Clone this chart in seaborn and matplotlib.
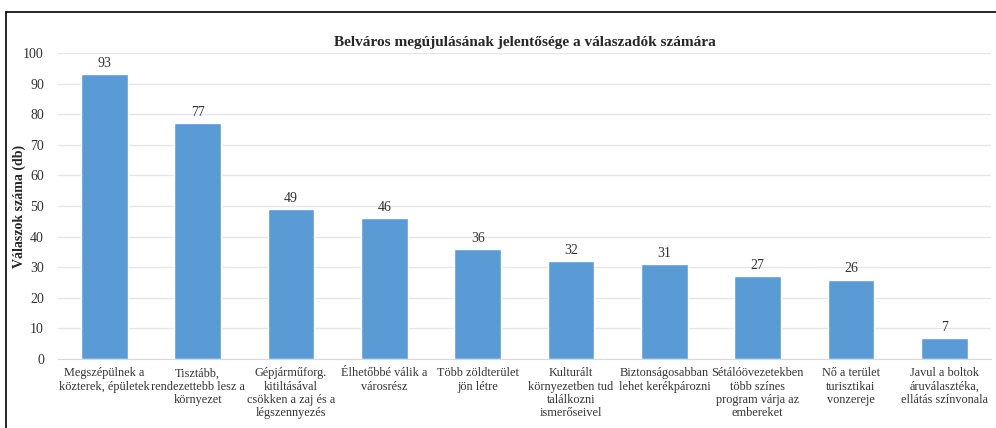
import pandas as pd
import matplotlib.pyplot as plt
import matplotlib.lines as mlines
import seaborn as sns

# Data
categories = [
    "Megszépülnek a\nközterek, épületek",
    "Tisztább,\nrendezettebb lesz a\nkörnyezet",
    "Gépjárműforg.\nkitiltásával\ncsökken a zaj és a\nlégszennyezés",
    "Élhetőbbé válik a\nvárosrész",
    "Több zöldterület\njön létre",
    "Kulturált\nkörnyezetben tud\ntalálkozni\nismerőseivel",
    "Biztonságosabban\nlehet kerékpározni",
    "Sétálóövezetekben\ntöbb színes\nprogram várja az\nembereket",
    "Nő a terület\nturisztikai\nvonzereje",
    "Javul a boltok\náruválasztéka,\nellátás színvonala",
]
counts = [93, 77, 49, 46, 36, 32, 31, 27, 26, 7]
yticks = list(range(0, 101, 10))

df = pd.DataFrame({"valasz": categories, "db": counts})

sns.set_style("white")
plt.rcParams["font.family"] = ["Liberation Serif", "DejaVu Serif"]

fig = plt.figure(figsize=(9.96, 4.28), dpi=100)
ax = fig.add_axes([0.058, 0.161, 0.937, 0.715])

sns.barplot(data=df, x="valasz", y="db", color="#5B9BD5", width=0.5,
            saturation=1, ax=ax)

ax.set_ylim(0, 100)
ax.set_yticks(yticks)
ax.yaxis.grid(True, color="#e6e6e6", linewidth=1)
ax.set_axisbelow(True)
for s in ["top", "right", "left"]:
    ax.spines[s].set_visible(False)
ax.spines["bottom"].set_color("#d9d9d9")
ax.tick_params(axis="both", length=0, colors="#333333")
ax.tick_params(axis="y", labelsize=10, pad=10)
ax.tick_params(axis="x", labelsize=8.8, pad=6)
for lab in ax.get_xticklabels():
    lab.set_linespacing(1.12)
ax.set_xlabel("")
ax.set_ylabel("Válaszok száma (db)", fontsize=10, fontweight="bold")
ax.yaxis.set_label_coords(-0.034, 0.5)
for c in ax.containers:
    ax.bar_label(c, padding=3, fontsize=10, color="#333333")

ax.set_title("Belváros megújulásának jelentősége a válaszadók számára",
             fontsize=11, fontweight="bold", pad=5)

# frame lines (left and top) as in the cropped screenshot
fig.add_artist(mlines.Line2D([0.006, 0.006], [0, 0.972], color="black", lw=1.2))
fig.add_artist(mlines.Line2D([0.006, 1.0], [0.972, 0.972], color="black", lw=1.2))

fig.savefig("out.png", dpi=100)
